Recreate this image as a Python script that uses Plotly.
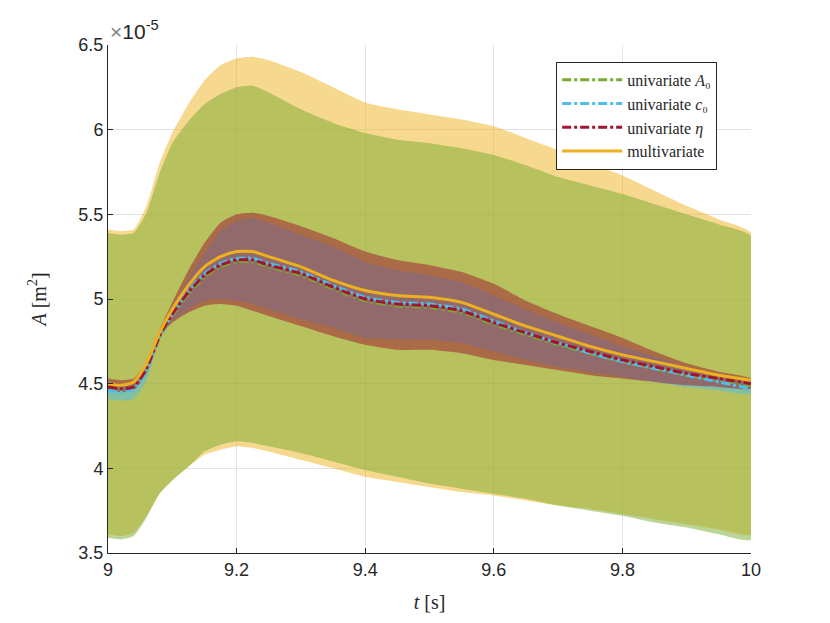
import plotly.graph_objects as go

t = [9.00, 9.02, 9.04, 9.06, 9.08, 9.10, 9.125, 9.15, 9.175, 9.20, 9.225, 9.25, 9.30,
     9.35, 9.40, 9.45, 9.50, 9.55, 9.60, 9.65, 9.70, 9.75, 9.80, 9.85, 9.90, 9.95, 10.0]

# mean curves (x 1e-5 m^2)
multi_mean = [4.50, 4.49, 4.51, 4.62, 4.80, 4.94, 5.08, 5.19, 5.25, 5.28, 5.28, 5.25, 5.19,
              5.11, 5.05, 5.02, 5.01, 4.98, 4.91, 4.84, 4.78, 4.72, 4.67, 4.63, 4.59, 4.55, 4.52]
eta_mean = [4.48, 4.47, 4.48, 4.59, 4.78, 4.91, 5.04, 5.14, 5.20, 5.23, 5.23, 5.20, 5.15,
            5.07, 5.00, 4.97, 4.96, 4.93, 4.86, 4.80, 4.74, 4.69, 4.64, 4.60, 4.56, 4.53, 4.50]
c0_mean = [4.46, 4.45, 4.47, 4.58, 4.78, 4.91, 5.05, 5.15, 5.21, 5.24, 5.24, 5.21, 5.16,
           5.08, 5.01, 4.98, 4.97, 4.94, 4.87, 4.80, 4.74, 4.68, 4.63, 4.59, 4.55, 4.51, 4.47]
a0_mean = [4.47, 4.46, 4.47, 4.58, 4.77, 4.90, 5.03, 5.13, 5.19, 5.22, 5.22, 5.19, 5.14,
           5.06, 4.99, 4.96, 4.95, 4.92, 4.85, 4.79, 4.73, 4.68, 4.63, 4.59, 4.55, 4.52, 4.49]

# uncertainty bands
multi_up = [5.41, 5.40, 5.41, 5.55, 5.80, 5.98, 6.15, 6.29, 6.38, 6.42, 6.43, 6.41, 6.34,
            6.25, 6.16, 6.12, 6.09, 6.06, 6.02, 5.95, 5.88, 5.80, 5.73, 5.64, 5.55, 5.47, 5.39]
multi_lo = [3.61, 3.60, 3.62, 3.72, 3.85, 3.93, 4.01, 4.08, 4.11, 4.13, 4.12, 4.10, 4.05,
            4.00, 3.95, 3.92, 3.89, 3.86, 3.84, 3.81, 3.78, 3.76, 3.73, 3.70, 3.67, 3.64, 3.61]
a0_up = [5.39, 5.38, 5.39, 5.51, 5.74, 5.92, 6.05, 6.15, 6.21, 6.25, 6.26, 6.22, 6.12,
         6.04, 5.98, 5.94, 5.92, 5.89, 5.85, 5.79, 5.72, 5.67, 5.62, 5.56, 5.50, 5.44, 5.37]
a0_lo = [3.59, 3.58, 3.60, 3.71, 3.85, 3.93, 4.01, 4.10, 4.14, 4.16, 4.15, 4.13, 4.09,
         4.04, 3.99, 3.95, 3.91, 3.88, 3.85, 3.82, 3.78, 3.75, 3.72, 3.68, 3.65, 3.61, 3.58]
c0_up = [4.50, 4.49, 4.50, 4.60, 4.80, 4.95, 5.12, 5.27, 5.40, 5.46, 5.48, 5.45, 5.38,
         5.31, 5.22, 5.17, 5.14, 5.10, 5.02, 4.94, 4.86, 4.79, 4.72, 4.66, 4.60, 4.55, 4.51]
c0_lo = [4.41, 4.40, 4.41, 4.52, 4.76, 4.87, 4.94, 4.99, 5.00, 4.99, 4.97, 4.94, 4.88,
         4.83, 4.77, 4.76, 4.76, 4.74, 4.69, 4.64, 4.60, 4.57, 4.54, 4.51, 4.48, 4.46, 4.44]
eta_up = [4.53, 4.52, 4.53, 4.63, 4.82, 4.98, 5.17, 5.33, 5.45, 5.50, 5.51, 5.49, 5.43,
          5.36, 5.28, 5.23, 5.20, 5.16, 5.09, 4.99, 4.91, 4.84, 4.77, 4.69, 4.62, 4.57, 4.53]
eta_lo = [4.46, 4.45, 4.46, 4.56, 4.78, 4.86, 4.92, 4.96, 4.97, 4.96, 4.93, 4.90, 4.84,
          4.78, 4.73, 4.70, 4.70, 4.68, 4.64, 4.61, 4.58, 4.55, 4.53, 4.51, 4.49, 4.48, 4.47]

C_GREEN = (119, 172, 48)
C_BLUE = (77, 190, 238)
C_RED = (162, 20, 47)
C_ORANGE = (237, 177, 32)

def rgba(c, a):
    return f"rgba({c[0]},{c[1]},{c[2]},{a})"

fig = go.Figure()

def band(up, lo, col):
    fig.add_trace(go.Scatter(
        x=t + t[::-1], y=up + lo[::-1], fill="toself", mode="lines",
        line=dict(width=0, shape="spline", smoothing=0.5),
        fillcolor=rgba(col, 0.5), showlegend=False, hoverinfo="skip"))

band(multi_up, multi_lo, C_ORANGE)
band(a0_up, a0_lo, C_GREEN)
band(c0_up, c0_lo, C_BLUE)
band(eta_up, eta_lo, C_RED)

def line(y, col, dash, name):
    fig.add_trace(go.Scatter(
        x=t, y=y, mode="lines", name=name,
        line=dict(color=rgba(col, 1), width=3, dash=dash, shape="spline", smoothing=0.6)))

line(a0_mean, C_GREEN, "dashdot", "univariate <i>A</i>₀")
line(c0_mean, C_BLUE, "dashdot", "univariate <i>c</i>₀")
line(eta_mean, C_RED, "dashdot", "univariate <i>η</i>")
line(multi_mean, C_ORANGE, "solid", "multivariate")

axis_common = dict(
    showline=True, linecolor="#262626", linewidth=1,
    ticks="inside", ticklen=5, tickcolor="#262626",
    showgrid=True, gridcolor="#e3e3e3", gridwidth=1, zeroline=False,
    automargin=False,
    tickfont=dict(family="Liberation Sans", size=18, color="#262626"),
)

fig.update_layout(
    width=814, height=607,
    margin=dict(l=100, r=71, t=37, b=62),
    paper_bgcolor="white", plot_bgcolor="white",
    xaxis=dict(range=[9, 10], tickvals=[9, 9.2, 9.4, 9.6, 9.8, 10],
               ticktext=["9", "9.2", "9.4", "9.6", "9.8", "10"],
               title=dict(text="<i>t</i> [s]", font=dict(family="Liberation Serif", size=20, color="#262626"),
                          standoff=16),
               **axis_common),
    yaxis=dict(range=[3.5, 6.5], tickvals=[3.5, 4, 4.5, 5, 5.5, 6, 6.5],
               ticktext=["3.5", "4", "4.5", "5", "5.5", "6", "6.5"],
               title=dict(text="<i>A</i> [m<sup>2</sup>]", font=dict(family="Liberation Serif", size=20, color="#262626"),
                          standoff=26),
               **axis_common),
    legend=dict(x=0.697, y=0.967, xanchor="left", yanchor="top",
                bgcolor="white", bordercolor="#262626", borderwidth=1,
                font=dict(family="Liberation Serif", size=16, color="#262626"),
                tracegroupgap=0, itemwidth=60),
    annotations=[dict(text="<span style='color:#808080'>×</span>10<sup>-5</sup>", xref="paper", yref="paper",
                      x=0, y=1, xanchor="left", yanchor="bottom", showarrow=False, yshift=0,
                      font=dict(family="Liberation Sans", size=21, color="#262626"))],
)

fig.write_html("out.html")
